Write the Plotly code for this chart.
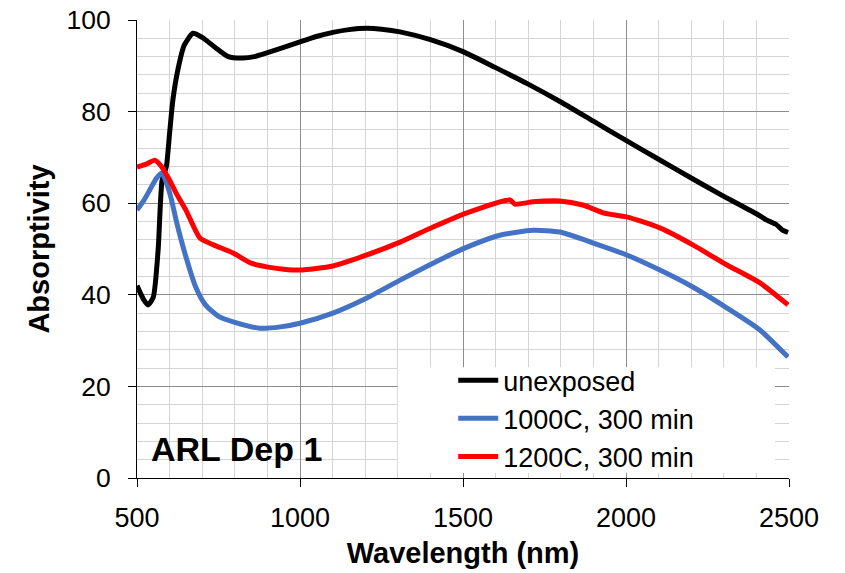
import plotly.graph_objects as go

# ---- data ----
wl_unexposed = [500, 520, 534, 550, 565, 577, 590, 600, 610, 625, 645, 672, 700, 740, 780, 825, 860, 898,
                950, 1000, 1050, 1101, 1150, 1205, 1250, 1307, 1400, 1500, 1600, 1700, 1800, 1900,
                2000, 2100, 2200, 2300, 2350, 2400, 2432, 2460, 2480, 2497]
abs_unexposed = [42.0, 39.0, 37.8, 39.5, 50.0, 65.0, 68.0, 75.3, 82.5, 89.0, 94.5, 97.1, 96.2, 94.0, 92.0, 91.7, 92.0, 92.8,
                 94.0, 95.2, 96.4, 97.3, 97.9, 98.2, 98.0, 97.4, 95.7, 93.1, 89.6, 86.0, 82.1, 77.9,
                 73.7, 69.6, 65.5, 61.5, 59.6, 57.7, 56.3, 55.4, 54.1, 53.6]

wl_1000 = [500, 520, 540, 560, 576, 590, 605, 622, 650, 680, 710, 750, 800, 877, 940, 1000, 1101, 1205,
           1307, 1408, 1512, 1613, 1715, 1797, 1900, 2002, 2104, 2205, 2310, 2411, 2497]
abs_1000 = [58.5, 60.5, 63.0, 65.5, 66.6, 64.5, 61.0, 55.7, 48.3, 41.7, 37.8, 35.3, 34.0, 32.7, 33.0, 33.8, 36.0, 39.3,
            43.2, 46.9, 50.4, 53.0, 54.1, 53.7, 51.3, 48.7, 45.4, 41.7, 37.1, 32.3, 26.4]

wl_1200 = [500, 530, 555, 575, 600, 620, 650, 693, 735, 795, 850, 898, 950, 1000, 1101, 1205, 1307,
           1408, 1512, 1644, 1659, 1715, 1797, 1868, 1930, 2002, 2104, 2205, 2310, 2411, 2497]
abs_1200 = [67.9, 68.6, 69.4, 68.0, 65.0, 62.2, 58.5, 52.4, 50.9, 49.1, 46.9, 46.1, 45.6, 45.4, 46.3, 48.7, 51.5,
            54.8, 57.9, 60.7, 59.8, 60.3, 60.5, 59.6, 57.9, 57.0, 54.6, 50.9, 46.5, 42.6, 37.8]

series_names = ["unexposed", "1000C, 300 min", "1200C, 300 min"]
series_colors = ["#000000", "#4472C4", "#FF0000"]

x_ticks = [500, 1000, 1500, 2000, 2500]
y_ticks = [0, 20, 40, 60, 80, 100]

FONT = "Liberation Sans, Arial, sans-serif"

fig = go.Figure()
for name, xs, ys, col in zip(series_names,
                             [wl_unexposed, wl_1000, wl_1200],
                             [abs_unexposed, abs_1000, abs_1200],
                             series_colors):
    fig.add_trace(go.Scatter(x=xs, y=ys, mode="lines", name=name,
                             line=dict(color=col, width=5, shape="spline", smoothing=0.6)))

# white legend box hiding the gridlines (as in the original)
fig.add_shape(type="rect", xref="x", yref="y",
              x0=1300, x1=2457, y0=1.1, y1=24.2,
              fillcolor="white", line=dict(width=0), layer="between")

fig.add_annotation(text="<b>ARL Dep 1</b>", xref="x domain", yref="y domain",
                   x=0.018, y=0.063, xanchor="left", yanchor="middle", showarrow=False,
                   font=dict(family=FONT, size=34, color="black"))

fig.update_layout(
    width=845, height=573,
    margin=dict(l=137, r=56, t=20, b=95, autoexpand=False),
    paper_bgcolor="white", plot_bgcolor="white",
    font=dict(family=FONT, color="black"),
    showlegend=True,
    legend=dict(x=0.485, y=0.266, xanchor="left", yanchor="top",
                bgcolor="rgba(0,0,0,0)", borderwidth=0,
                font=dict(family=FONT, size=27, color="black"),
                tracegroupgap=0, itemwidth=40),
    xaxis=dict(range=[500, 2500], tickvals=x_ticks, ticktext=[str(v) for v in x_ticks],
               automargin=False,
               showgrid=True, gridcolor="#8c8c8c", gridwidth=1,
               minor=dict(dtick=100, tick0=500, showgrid=True, gridcolor="#d4d4d4", gridwidth=1),
               showline=True, linecolor="#000000", linewidth=1,
               ticks="outside", ticklen=8, tickcolor="#000000",
               ticklabelstandoff=8,
               tickfont=dict(family=FONT, size=27, color="black"),
               title=dict(text="<b>Wavelength (nm)</b>", standoff=10,
                          font=dict(family=FONT, size=29, color="black")),
               zeroline=False),
    yaxis=dict(range=[0, 100], tickvals=y_ticks, ticktext=[str(v) for v in y_ticks],
               automargin=False,
               showgrid=True, gridcolor="#8c8c8c", gridwidth=1,
               minor=dict(dtick=4, tick0=0, showgrid=True, gridcolor="#d4d4d4", gridwidth=1),
               showline=True, linecolor="#000000", linewidth=1,
               ticks="outside", ticklen=8, tickcolor="#000000",
               ticklabelstandoff=12,
               tickfont=dict(family=FONT, size=26.5, color="black"),
               title=dict(text="<b>Absorptivity</b>", standoff=8,
                          font=dict(family=FONT, size=29, color="black")),
               zeroline=False),
)

fig.write_html("out.html")
